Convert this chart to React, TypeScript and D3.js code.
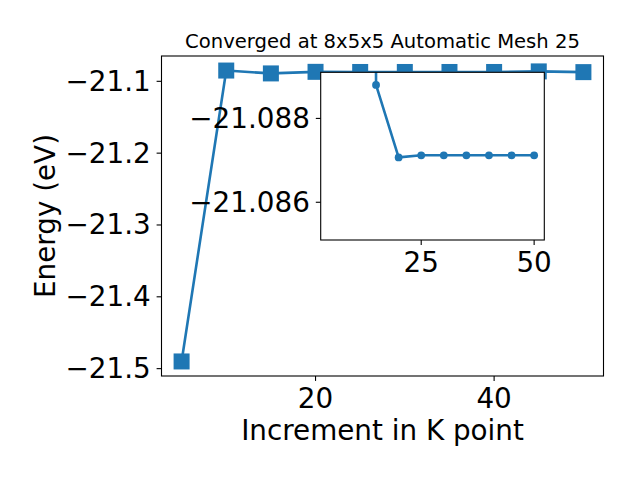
import React from 'react';
import * as d3 from 'd3';

// k-point convergence: energy per k-point increment, with a zoomed inset
const kPoints = [5, 10, 15, 20, 25, 30, 35, 40, 45, 50];
const energies = [-21.49, -21.085, -21.089, -21.0868, -21.087, -21.087, -21.087, -21.087, -21.0862, -21.0872];

const insetK = [10, 15, 20, 25, 30, 35, 40, 45, 50];
const insetEnergies = [-21.49, -21.0888, -21.08707, -21.08712, -21.08712, -21.08712, -21.08712, -21.08712, -21.08712];

const mainXTicks = [20, 40];
const mainYTicks = [-21.1, -21.2, -21.3, -21.4, -21.5];
const insetXTicks = [25, 50];
const insetYTicks = [-21.088, -21.086];
const insetYLim = [-21.0891, -21.0851];

const blue = '#1f77b4';
const font = 'DejaVu Sans, sans-serif';
const tickFont = 27.8;
const tickLen = 4.9;
const lw = 2.6;

const fmt = (v: number, digits: number) => (v < 0 ? '\u2212' : '') + Math.abs(v).toFixed(digits);

export default function App() {
  const W = 640, H = 480;
  const left = 161.5, right = 603.5, top = 56, bottom = 376;

  const xPad = (d3.max(kPoints)! - d3.min(kPoints)!) * 0.05;
  const xDomain = [d3.min(kPoints)! - xPad, d3.max(kPoints)! + xPad];
  const yPad = (d3.max(energies)! - d3.min(energies)!) * 0.05;

  const x = d3.scaleLinear().domain(xDomain).range([left, right]);
  const y = d3.scaleLinear().domain([d3.min(energies)! - yPad, d3.max(energies)! + yPad]).range([bottom, top]);

  // inset axes (y axis runs downward: inverted limits)
  const iL = 320.7, iR = 544.3, iT = 72.3, iB = 240;
  const ix = d3.scaleLinear().domain(xDomain).range([iL, iR]);
  const iy = d3.scaleLinear().domain(insetYLim).range([iT, iB]);

  const mainLine = d3.line<number>().x((d, i) => x(kPoints[i])).y((d) => y(d))(energies)!;
  const insetLine = d3.line<number>().x((d, i) => ix(insetK[i])).y((d) => iy(d))(insetEnergies)!;

  const ms = 16;

  return (
    <svg width={W} height={H} style={{ position: 'absolute', left: 0, top: 0, background: '#fff' }} fontFamily={font}>
      <rect x={0} y={0} width={W} height={H} fill="#fff" />
      <text x={(left + right) / 2} y={47.7} fontSize={19.6} textAnchor="middle">
        Converged at 8x5x5 Automatic Mesh 25
      </text>

      {/* main series */}
      <path d={mainLine} fill="none" stroke={blue} strokeWidth={lw} strokeLinejoin="round" />
      {energies.map((e, i) => (
        <rect key={i} x={x(kPoints[i]) - ms / 2} y={y(e) - ms / 2} width={ms} height={ms} fill={blue} />
      ))}

      {/* main frame */}
      <rect x={left} y={top} width={right - left} height={bottom - top} fill="none" stroke="#000" strokeWidth={1.1} />
      {mainXTicks.map((t) => (
        <g key={t}>
          <line x1={x(t)} x2={x(t)} y1={bottom} y2={bottom + tickLen} stroke="#000" strokeWidth={1.1} />
          <text x={x(t)} y={407.5} fontSize={tickFont} textAnchor="middle">{t}</text>
        </g>
      ))}
      {mainYTicks.map((t) => (
        <g key={t}>
          <line x1={left - tickLen} x2={left} y1={y(t)} y2={y(t)} stroke="#000" strokeWidth={1.1} />
          <text x={left - 2 * tickLen - 1} y={y(t)} fontSize={tickFont} textAnchor="end" dominantBaseline="central">
            {fmt(t, 1)}
          </text>
        </g>
      ))}
      <text x={(left + right) / 2} y={440} fontSize={tickFont} textAnchor="middle">Increment in K point</text>
      <text transform={`translate(55,${(top + bottom) / 2}) rotate(-90)`} fontSize={tickFont} textAnchor="middle">
        Energy (eV)
      </text>

      {/* inset */}
      <defs>
        <clipPath id="insetClip">
          <rect x={iL} y={iT} width={iR - iL} height={iB - iT} />
        </clipPath>
      </defs>
      <rect x={iL} y={iT} width={iR - iL} height={iB - iT} fill="#fff" />
      <g clipPath="url(#insetClip)">
        <path d={insetLine} fill="none" stroke={blue} strokeWidth={lw} strokeLinejoin="round" />
        {insetEnergies.map((e, i) => (
          <circle key={i} cx={ix(insetK[i])} cy={iy(e)} r={3.9} fill={blue} />
        ))}
      </g>
      <rect x={iL} y={iT} width={iR - iL} height={iB - iT} fill="none" stroke="#000" strokeWidth={1.1} />
      {insetXTicks.map((t) => (
        <g key={t}>
          <line x1={ix(t)} x2={ix(t)} y1={iB} y2={iB + tickLen} stroke="#000" strokeWidth={1.1} />
          <text x={ix(t)} y={271.5} fontSize={tickFont} textAnchor="middle">{t}</text>
        </g>
      ))}
      {insetYTicks.map((t) => (
        <g key={t}>
          <line x1={iL - tickLen} x2={iL} y1={iy(t)} y2={iy(t)} stroke="#000" strokeWidth={1.1} />
          <text x={iL - 2 * tickLen - 1} y={iy(t)} fontSize={tickFont} textAnchor="end" dominantBaseline="central">
            {fmt(t, 3)}
          </text>
        </g>
      ))}
    </svg>
  );
}
